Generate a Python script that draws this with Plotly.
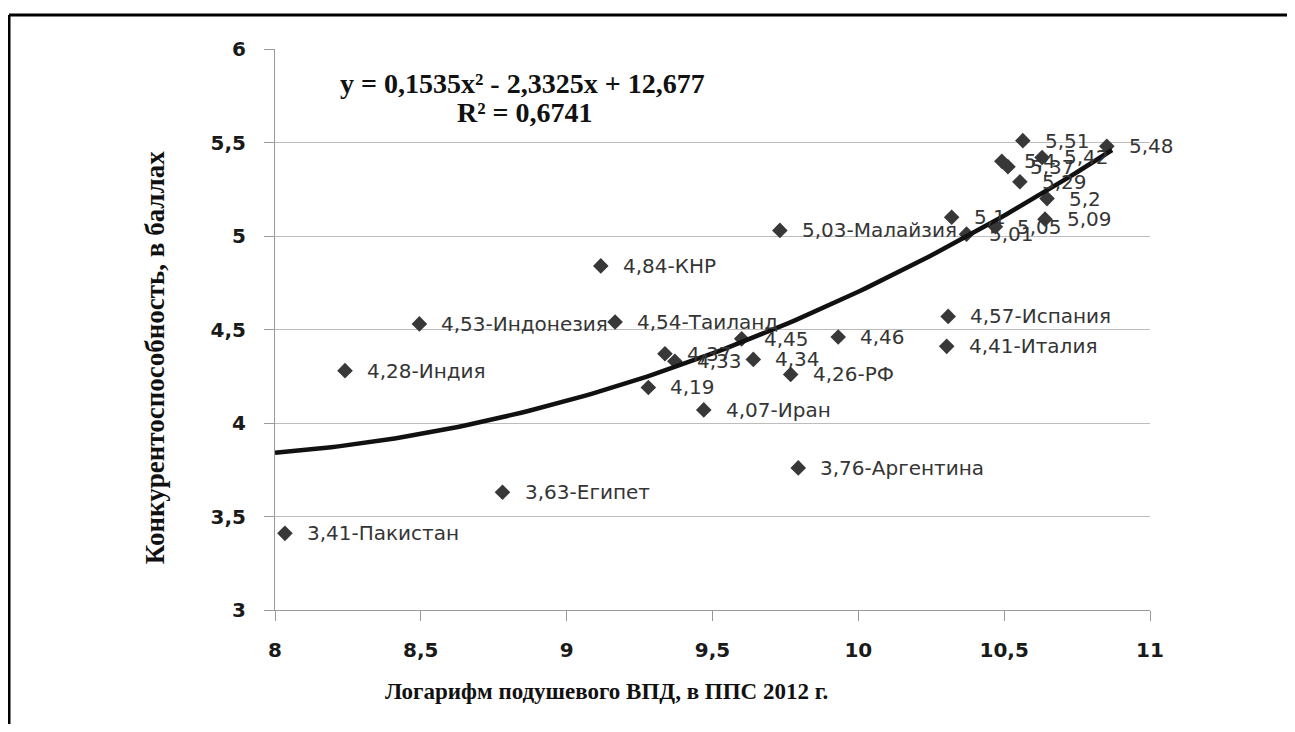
import plotly.graph_objects as go

# ---- data ----
gdp_log = [8.034, 8.78, 8.24, 8.495, 9.117, 9.166, 9.337, 9.371, 9.28, 9.47,
           9.60, 9.64, 9.768, 9.794, 9.731, 9.931, 10.308, 10.303, 10.32, 10.371,
           10.47, 10.564, 10.492, 10.513, 10.63, 10.554, 10.647, 10.64, 10.852]
score = [3.41, 3.63, 4.28, 4.53, 4.84, 4.54, 4.37, 4.33, 4.19, 4.07,
         4.45, 4.34, 4.26, 3.76, 5.03, 4.46, 4.57, 4.41, 5.10, 5.01,
         5.05, 5.51, 5.40, 5.37, 5.42, 5.29, 5.20, 5.09, 5.48]
labels = ["3,41-Пакистан", "3,63-Египет", "4,28-Индия", "4,53-Индонезия", "4,84-КНР",
          "4,54-Таиланд", "4,37", "4,33", "4,19", "4,07-Иран",
          "4,45", "4,34", "4,26-РФ", "3,76-Аргентина", "5,03-Малайзия",
          "4,46", "4,57-Испания", "4,41-Италия", "5,1", "5,01",
          "5,05", "5,51", "5,4", "5,37", "5,42", "5,29", "5,2", "5,09", "5,48"]

# trendline coefficients (from the chart's equation)
coef_a, coef_b, coef_c = 0.1535, -2.3325, 12.677
trend_x_start, trend_x_end = 8.0, 10.87

x_ticks = [8, 8.5, 9, 9.5, 10, 10.5, 11]
x_tick_text = ["8", "8,5", "9", "9,5", "10", "10,5", "11"]
y_ticks = [3, 3.5, 4, 4.5, 5, 5.5, 6]
y_tick_text = ["3", "3,5", "4", "4,5", "5", "5,5", "6"]

eq_text = "y = 0,1535x² - 2,3325x + 12,677"
r2_text = "R² = 0,6741"
x_title = "Логарифм подушевого ВПД, в ППС 2012 г."
y_title = "Конкурентоспособность, в баллах"

# ---- figure ----
n = 120
tx = [trend_x_start + (trend_x_end - trend_x_start) * i / (n - 1) for i in range(n)]
ty = [coef_a * v * v + coef_b * v + coef_c for v in tx]

fig = go.Figure()
fig.add_trace(go.Scatter(
    x=gdp_log, y=score, mode="markers",
    marker=dict(symbol="diamond", size=12, color="#383838"),
    hoverinfo="skip", showlegend=False))
fig.add_trace(go.Scatter(
    x=tx, y=ty, mode="lines",
    line=dict(color="#111111", width=4.5),
    hoverinfo="skip", showlegend=False))

annotations = []
for xv, yv, t in zip(gdp_log, score, labels):
    annotations.append(dict(
        x=xv, y=yv, xref="x", yref="y", text=t, showarrow=False,
        xanchor="left", yanchor="middle", xshift=20,
        font=dict(family="DejaVu Sans", size=20, color="#353535")))

annotations += [
    dict(x=0.283, y=0.939, xref="paper", yref="paper", text=eq_text, showarrow=False,
         xanchor="center", yanchor="middle",
         font=dict(family="Liberation Serif", size=28, color="#111111", weight="bold")),
    dict(x=0.286, y=0.886, xref="paper", yref="paper", text=r2_text, showarrow=False,
         xanchor="center", yanchor="middle",
         font=dict(family="Liberation Serif", size=28, color="#111111", weight="bold")),
    dict(x=0.379, y=-0.146, xref="paper", yref="paper", text=x_title, showarrow=False,
         xanchor="center", yanchor="middle",
         font=dict(family="Liberation Serif", size=23, color="#111111", weight="bold")),
    dict(x=-0.137, y=0.449, xref="paper", yref="paper", text=y_title, showarrow=False,
         xanchor="center", yanchor="middle", textangle=-90,
         font=dict(family="Liberation Serif", size=27, color="#111111", weight="bold")),
]

# figure sized to leave room for the page's default 8px body margin
fig.update_layout(
    width=1279, height=716,
    margin=dict(l=267, r=137, t=41, b=114),
    paper_bgcolor="white", plot_bgcolor="white",
    annotations=annotations,
    shapes=[
        dict(type="line", xref="paper", yref="paper",
             x0=-0.304, x1=2.0, y0=1.0606, y1=1.0606,
             line=dict(color="black", width=3), layer="above"),
        dict(type="line", xref="paper", yref="paper",
             x0=-0.304, x1=-0.304, y0=-1.0, y1=1.0606,
             line=dict(color="black", width=3), layer="above"),
    ],
)
fig.update_xaxes(
    range=[8, 11], tickvals=x_ticks, ticktext=x_tick_text,
    showgrid=False, zeroline=False, showline=True, linecolor="#9a9a9a", linewidth=1,
    ticks="outside", ticklen=10, tickcolor="#9a9a9a", ticklabelstandoff=12,
    tickfont=dict(family="DejaVu Sans", size=20, color="#1a1a1a", weight="bold"))
fig.update_yaxes(
    range=[3, 6], tickvals=y_ticks, ticktext=y_tick_text,
    showgrid=True, gridcolor="#bdbdbd", gridwidth=1, zeroline=False,
    showline=True, linecolor="#9a9a9a", linewidth=1,
    ticks="outside", ticklen=10, tickcolor="#9a9a9a", ticklabelstandoff=14,
    tickfont=dict(family="DejaVu Sans", size=20, color="#1a1a1a", weight="bold"))

fig.write_html("out.html")
